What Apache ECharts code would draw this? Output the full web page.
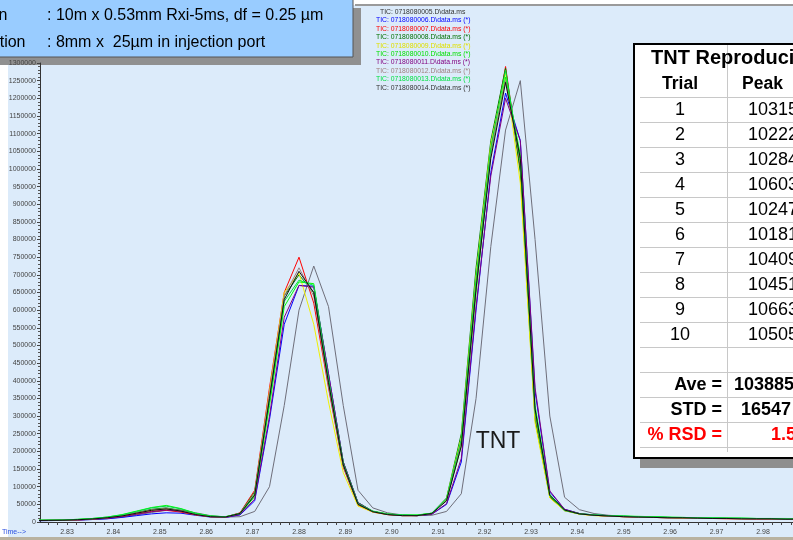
<!DOCTYPE html>
<html>
<head>
<meta charset="utf-8">
<script src="https://cdn.jsdelivr.net/npm/echarts@6/dist/echarts.min.js"></script>
<style>html,body{margin:0;padding:0;background:#fff;}#c{width:793px;height:540px;}</style>
</head>
<body>
<div id="c"></div>
<script>
// ---- data ----
const times = [2.82276,2.82594,2.82912,2.83230,2.83548,2.83866,2.84184,2.84502,2.84820,2.85138,2.85456,2.85774,2.86092,2.86410,2.86728,2.87046,2.87364,2.87682,2.88000,2.88318,2.88636,2.88954,2.89272,2.89590,2.89908,2.90226,2.90544,2.90862,2.91180,2.91498,2.91816,2.92134,2.92452,2.92770,2.93088,2.93406,2.93724,2.94042,2.94360,2.94678,2.94996,2.95314,2.95632,2.95950,2.96268,2.96586,2.96904,2.97222,2.97540,2.97858,2.98176,2.98494,2.98812];

const tic05 = [3500,4000,4500,5500,7000,9500,14000,20000,27000,33000,34000,26000,18000,14000,
  15000,30000,100000,330000,600000,725000,610000,330000,90000,40000,
  26000,20000,18000,19000,30000,80000,350000,780000,1110000,1250000,800000,300000,70000,35000,
  24000,19000,16000,15000,14000,13000,12000,11000,11000,10000,10000,9000,9000,8000,8000];
const tic06 = [3500,4000,4500,5500,7000,9000,13000,18000,23000,26000,25000,19000,14000,13000,
  20000,60000,290000,560000,670000,668000,420000,170000,55000,30000,
  22000,19000,18000,22000,50000,170000,600000,990000,1215000,1080000,370000,85000,36000,24000,
  20000,18000,16000,15000,14000,13000,12000,11000,11000,10000,10000,9000,9000,9000,8000];
const tic07 = [4000,4500,5000,6000,8000,11000,16000,23000,30000,33000,28000,20000,15000,14000,
  26000,90000,380000,650000,750000,620000,380000,155000,48000,28000,
  21000,18000,18000,24000,65000,230000,680000,1060000,1290000,1000000,300000,72000,33000,23000,
  19000,17000,15000,14000,13000,12000,11000,10000,10000,9000,9000,8000,8000,8000,7000];
const tic08 = [4500,5000,5500,7000,9000,12000,18000,27000,36000,40000,33000,23000,16000,14000,
  25000,85000,360000,640000,700000,650000,390000,160000,50000,30000,
  22000,19000,19000,25000,68000,250000,720000,1080000,1285000,990000,290000,70000,32000,23000,
  19000,17000,16000,15000,14000,13000,12000,12000,11000,11000,10000,10000,9000,9000,9000];
const tic09 = [4000,4500,5000,6500,8500,12000,17000,25000,33000,37000,31000,21000,15000,14000,
  24000,80000,370000,650000,705000,560000,340000,140000,45000,28000,
  21000,18000,18000,24000,66000,240000,700000,1070000,1270000,960000,280000,68000,32000,22000,
  18000,16000,15000,14000,13000,12000,11000,11000,10000,10000,9000,9000,9000,8000,8000];
const tic10 = [5000,5500,6000,7500,10000,14000,21000,31000,41000,47000,38000,25000,17000,15000,
  23000,72000,330000,610000,680000,675000,410000,170000,55000,31000,
  23000,20000,20000,25000,62000,215000,650000,1040000,1260000,1040000,330000,78000,34000,24000,
  20000,18000,17000,16000,15000,14000,13000,12000,12000,11000,11000,10000,10000,10000,9000];
const tic11 = [4000,4500,5000,6000,8000,11000,15000,22000,29000,34000,30000,21000,15000,13000,
  21000,65000,300000,580000,670000,665000,420000,170000,55000,30000,
  21000,18000,18000,22000,52000,180000,610000,980000,1200000,1080000,380000,88000,36000,24000,
  19000,17000,15000,14000,13000,12000,12000,11000,10000,10000,9000,9000,9000,8000,8000];
const tic12 = [4500,5000,5500,6500,8500,12000,17000,26000,34000,38000,32000,22000,15000,14000,
  25000,82000,365000,640000,720000,640000,385000,158000,50000,29000,
  22000,19000,18000,24000,62000,225000,670000,1050000,1250000,1020000,310000,74000,33000,23000,
  19000,17000,16000,14000,13000,12000,12000,11000,11000,10000,10000,9000,9000,9000,8000];
const tic13 = [5000,5500,6000,7500,10000,14000,20000,30000,40000,45000,37000,24000,17000,15000,
  24000,78000,345000,625000,685000,670000,405000,165000,52000,30000,
  22000,20000,19000,25000,66000,235000,690000,1060000,1280000,1020000,310000,74000,33000,23000,
  20000,18000,17000,15000,14000,13000,13000,12000,12000,11000,11000,10000,10000,9000,9000];
const tic14 = [4000,4500,5000,6500,8500,12000,17000,25000,33000,37000,31000,21000,15000,14000,
  24000,76000,350000,630000,710000,650000,395000,162000,50000,29000,
  21000,18000,18000,24000,60000,215000,660000,1030000,1245000,1030000,320000,76000,34000,23000,
  19000,17000,15000,14000,13000,12000,12000,11000,10000,10000,9000,9000,9000,8000,8000];

const seriesNames = [
  "TIC: 0718080005.D\\data.ms",
  "TIC: 0718080006.D\\data.ms (*)",
  "TIC: 0718080007.D\\data.ms (*)",
  "TIC: 0718080008.D\\data.ms (*)",
  "TIC: 0718080009.D\\data.ms (*)",
  "TIC: 0718080010.D\\data.ms (*)",
  "TIC: 0718080011.D\\data.ms (*)",
  "TIC: 0718080012.D\\data.ms (*)",
  "TIC: 0718080013.D\\data.ms (*)",
  "TIC: 0718080014.D\\data.ms (*)"
];
const seriesValues = [tic05, tic06, tic07, tic08, tic09, tic10, tic11, tic12, tic13, tic14];

const xLabelValues = [2.83,2.84,2.85,2.86,2.87,2.88,2.89,2.90,2.91,2.92,2.93,2.94,2.95,2.96,2.97,2.98];
const xTickValues = [2.826,2.828,2.83,2.832,2.834,2.836,2.838,2.84,2.842,2.844,2.846,2.848,
  2.85,2.852,2.854,2.856,2.858,2.86,2.862,2.864,2.866,2.868,2.87,2.872,2.874,2.876,2.878,
  2.88,2.882,2.884,2.886,2.888,2.89,2.892,2.894,2.896,2.898,2.9,2.902,2.904,2.906,2.908,
  2.91,2.912,2.914,2.916,2.918,2.92,2.922,2.924,2.926,2.928,2.93,2.932,2.934,2.936,2.938,
  2.94,2.942,2.944,2.946,2.948,2.95,2.952,2.954,2.956,2.958,2.96,2.962,2.964,2.966,2.968,
  2.97,2.972,2.974,2.976,2.978,2.98,2.982,2.984,2.986];

const tableTitle = "TNT Reproducibility";
const tableHeaders = ["Trial", "Peak"];
const trialLabels = ["1","2","3","4","5","6","7","8","9","10"];
const peakAreas = ["10315","10222","10284","10603","10247","10181","10409","10451","10663","10505"];
const summaryLabels = ["Ave =","STD =","% RSD ="];
const summaryValues = ["103885","16547","1.59"];

const infoLines = [["Column", ": 10m x 0.53mm Rxi-5ms, df = 0.25 \u00b5m"],
                   ["Injection", ": 8mm x  25\u00b5m in injection port"]];
const peakLabel = "TNT";
const axisTitle = "Time-->";

// ---- styles ----
const lineColors = ["#6e6e7a","#0000ff","#ff0000","#008000","#f0f000","#00ff00","#800080","#a08080","#00e040","#101010"];
const legendColors = ["#333333","#0000ff","#ff0000","#007000","#e0e000","#00e000","#800080","#a08080","#00e040","#333333"];
const FONT = "'Liberation Sans', Arial, sans-serif";

const chart = echarts.init(document.getElementById('c'), null, {renderer:'canvas'});

const series = seriesNames.map((name, i) => ({
  name: name,
  type: 'line',
  data: times.map((t, j) => [t, seriesValues[i][j]]),
  showSymbol: false,
  symbol: 'none',
  lineStyle: { width: 1, color: lineColors[i] },
  itemStyle: { color: lineColors[i] },
  emphasis: { disabled: true },
  clip: true,
  z: 2 + i * 0.01
}));

const g = [];
// backgrounds
g.push({type:'rect', z:-100, shape:{x:8,y:5,width:785,height:532}, style:{fill:'#dcebfa'}});
g.push({type:'rect', z:-100, shape:{x:0,y:537,width:793,height:3}, style:{fill:'#b9b2a0'}});
g.push({type:'line', z:-90, shape:{x1:355,y1:5,x2:793,y2:5}, style:{stroke:'#9a9a9a', lineWidth:2}});
// info box with shadow (shadow under axis labels)
g.push({type:'rect', z:-50, shape:{x:0,y:57,width:361,height:8}, style:{fill:'#909090'}});
g.push({type:'rect', z:-50, shape:{x:353,y:8,width:8,height:57}, style:{fill:'#909090'}});
g.push({type:'rect', z:101, shape:{x:-2,y:-2,width:355,height:59}, style:{fill:'#99ccff', stroke:'#555', lineWidth:1}});
infoLines.forEach((ln, i) => {
  const y = 16 + i * 27;
  const rx = i === 0 ? 7.5 : 25.5;
  g.push({type:'text', z:102, style:{text:ln[0], x:rx, y:y, align:'right', verticalAlign:'middle', font:'16px ' + FONT, fill:'#000'}});
  g.push({type:'text', z:102, style:{text:ln[1], x:47, y:y, align:'left', verticalAlign:'middle', font:'16px ' + FONT, fill:'#000'}});
});
// time label
g.push({type:'text', z:50, style:{text:axisTitle, x:26, y:532, align:'right', verticalAlign:'middle', font:'7px ' + FONT, fill:'#2b4fe0'}});
// peak label
g.push({type:'text', z:50, style:{text:peakLabel, x:498, y:442, align:'center', verticalAlign:'middle', font:'23px ' + FONT, fill:'#1a1a1a'}});
// table
g.push({type:'rect', z:100, shape:{x:640,y:458,width:160,height:10}, style:{fill:'#8e8e8e'}});
g.push({type:'rect', z:101, shape:{x:634,y:44,width:170,height:414}, style:{fill:'#ffffff', stroke:'#000', lineWidth:2}});
g.push({type:'line', z:102, shape:{x1:727.5,y1:45,x2:727.5,y2:452}, style:{stroke:'#c8c8c8', lineWidth:1}});
for (let j = 0; j < 15; j++) {
  const y = 97.5 + 25 * j;
  g.push({type:'line', z:102, shape:{x1:640,y1:y,x2:793,y2:y}, style:{stroke:'#c8c8c8', lineWidth:1}});
}
g.push({type:'text', z:103, style:{text:tableTitle, x:651, y:58, align:'left', verticalAlign:'middle', font:'bold 20px ' + FONT, fill:'#000'}});
g.push({type:'text', z:103, style:{text:tableHeaders[0], x:680, y:84, align:'center', verticalAlign:'middle', font:'bold 17.5px ' + FONT, fill:'#000'}});
g.push({type:'text', z:103, style:{text:tableHeaders[1], x:742, y:84, align:'left', verticalAlign:'middle', font:'bold 17.5px ' + FONT, fill:'#000'}});
trialLabels.forEach((t, i) => {
  const y = 110 + 25 * i;
  g.push({type:'text', z:103, style:{text:t, x:680, y:y, align:'center', verticalAlign:'middle', font:'18px ' + FONT, fill:'#000'}});
  g.push({type:'text', z:103, style:{text:peakAreas[i], x:748, y:y, align:'left', verticalAlign:'middle', font:'18px ' + FONT, fill:'#000'}});
});
const sumX = [734, 741, 771];
summaryLabels.forEach((t, i) => {
  const y = 385 + 25 * i;
  const col = i === 2 ? '#ff0000' : '#000';
  g.push({type:'text', z:103, style:{text:t, x:722, y:y, align:'right', verticalAlign:'middle', font:'bold 18px ' + FONT, fill:col}});
  g.push({type:'text', z:103, style:{text:summaryValues[i], x:sumX[i], y:y, align:'left', verticalAlign:'middle', font:'bold 18px ' + FONT, fill:col}});
});

const legendText = {fontSize:6.8, lineHeight:8.4, fontFamily:FONT};
const option = {
  animation: false,
  backgroundColor: '#ffffff',
  grid: { left: 40, right: 0, top: 63, bottom: 18, containLabel: false },
  legend: [
    { data: [{name: seriesNames[0], textStyle:{color: legendColors[0]}}],
      orient:'vertical', left:374, top:8, padding:0, itemGap:0, itemWidth:0, itemHeight:0,
      selectedMode:false, textStyle: legendText, z: 60 },
    { data: seriesNames.slice(1).map((n, i) => ({name:n, textStyle:{color: legendColors[i+1]}})),
      orient:'vertical', left:370, top:16.4, padding:0, itemGap:0, itemWidth:0, itemHeight:0,
      selectedMode:false, textStyle: legendText, z: 60 }
  ],
  xAxis: {
    type: 'value', min: 2.82418, max: 2.98647,
    axisLine: { show: true, onZero: false, lineStyle: { color: '#333', width: 1 } },
    axisTick: { show: true, length: 3, customValues: xTickValues, lineStyle: { color: '#444' } },
    axisLabel: { customValues: xLabelValues, formatter: v => v.toFixed(2), fontSize: 7, color: '#444', margin: 7, fontFamily: FONT },
    splitLine: { show: false }
  },
  yAxis: {
    type: 'value', min: 0, max: 1300000, interval: 50000,
    axisLine: { show: true, lineStyle: { color: '#333', width: 1 } },
    axisTick: { show: true, length: 3, lineStyle: { color: '#444' } },
    minorTick: { show: true, splitNumber: 5, length: 2, lineStyle: { color: '#555' } },
    axisLabel: { formatter: v => String(v), fontSize: 7, color: '#444', margin: 4, fontFamily: FONT },
    splitLine: { show: false }
  },
  graphic: g,
  series: series
};
chart.setOption(option);
</script>
</body>
</html>
